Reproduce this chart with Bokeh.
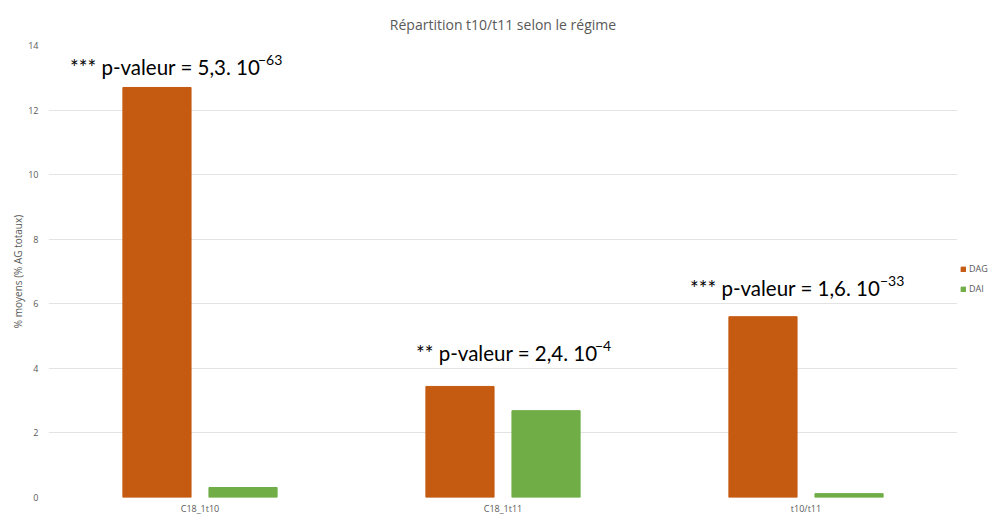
from bokeh.plotting import figure
from bokeh.models import ColumnDataSource, FactorRange, Range1d, FixedTicker, Legend, LegendItem
from bokeh.transform import dodge
from bokeh.core.properties import value
from bokeh.embed import file_html
from bokeh.resources import INLINE

# ---- data ----
categories = ["C18_1t10", "C18_1t11", "t10/t11"]
series_names = ["DAG", "DAI"]
dag_values = [12.7, 3.44, 5.6]
dai_values = [0.31, 2.69, 0.12]
y_ticks = [0, 2, 4, 6, 8, 10, 12, 14]
ann_main = ["*** p-valeur = 5,3. 10", "** p-valeur = 2,4. 10", "*** p-valeur = 1,6. 10"]
ann_exp = ["\u221263", "\u22124", "\u221233"]
ann_y = [13.32, 4.49, 6.50]

ORANGE = "#C55A11"
GREEN = "#70AD47"
GRAY = "#595959"

src = ColumnDataSource(dict(cat=categories, dag=dag_values, dai=dai_values))

p = figure(frame_width=909, frame_height=452, output_backend="svg", toolbar_location=None,
           x_range=FactorRange(factors=categories, range_padding=0),
           y_range=Range1d(0, 14),
           min_border_left=48, min_border_right=30, min_border_top=45, min_border_bottom=0)

p.title.text = "Répartition t10/t11 selon le régime"
p.title.align = "center"
p.title.text_font = "Open Sans"
p.title.text_font_size = "14px"
p.title.text_font_style = "normal"
p.title.text_color = GRAY
p.title.standoff = 24

p.outline_line_color = None
p.xgrid.grid_line_color = None
p.ygrid.grid_line_color = "#E3E3E3"
p.ygrid.grid_line_width = 1

for ax in (p.xaxis, p.yaxis):
    ax.axis_line_color = None
    ax.major_tick_line_color = None
    ax.minor_tick_line_color = None
    ax.major_tick_out = 0
    ax.major_tick_in = 0
    ax.minor_tick_out = 0
    ax.minor_tick_in = 0
    ax.major_label_text_font = "Open Sans"
    ax.major_label_text_font_size = "9px"
    ax.major_label_text_color = GRAY

p.yaxis.ticker = FixedTicker(ticks=y_ticks)
p.yaxis.major_label_standoff = 10
p.yaxis.axis_label = "% moyens (% AG totaux)"
p.yaxis.axis_label_text_font = "Open Sans"
p.yaxis.axis_label_text_font_size = "10px"
p.yaxis.axis_label_text_font_style = "normal"
p.yaxis.axis_label_text_color = GRAY
p.yaxis.axis_label_standoff = 0
p.xaxis.major_label_standoff = 4

r1 = p.vbar(x=dodge("cat", -0.142, range=p.x_range), top="dag", width=0.225, source=src,
            fill_color=ORANGE, line_color=ORANGE)
r2 = p.vbar(x=dodge("cat", 0.142, range=p.x_range), top="dai", width=0.225, source=src,
            fill_color=GREEN, line_color=GREEN)

ann_src = ColumnDataSource(dict(cat=categories, main=ann_main, exp=ann_exp, y=ann_y,
                                xo=[-130, -87, -116], xe=[58, 92, 74]))
p.text(x="cat", y="y", text="main", source=ann_src, x_offset="xo",
       text_font=value("Lato"), text_font_size="20.5px", text_color="#000000",
       text_align="left", text_baseline="alphabetic")
p.text(x="cat", y="y", text="exp", source=ann_src, x_offset="xe", y_offset=-7,
       text_font=value("Lato"), text_font_size="14px", text_color="#000000",
       text_align="left", text_baseline="alphabetic")

legend = Legend(items=[LegendItem(label=series_names[0], renderers=[r1]),
                       LegendItem(label=series_names[1], renderers=[r2])],
                location=(3, 202), orientation="vertical",
                border_line_color=None, background_fill_alpha=0,
                padding=0, margin=0, spacing=7,
                glyph_width=6, glyph_height=6, label_height=6, label_width=10,
                label_standoff=3, label_text_font="Open Sans",
                label_text_font_size="9px", label_text_color=GRAY)
p.add_layout(legend, "right")

open("out.html", "w").write(file_html(p, INLINE))
